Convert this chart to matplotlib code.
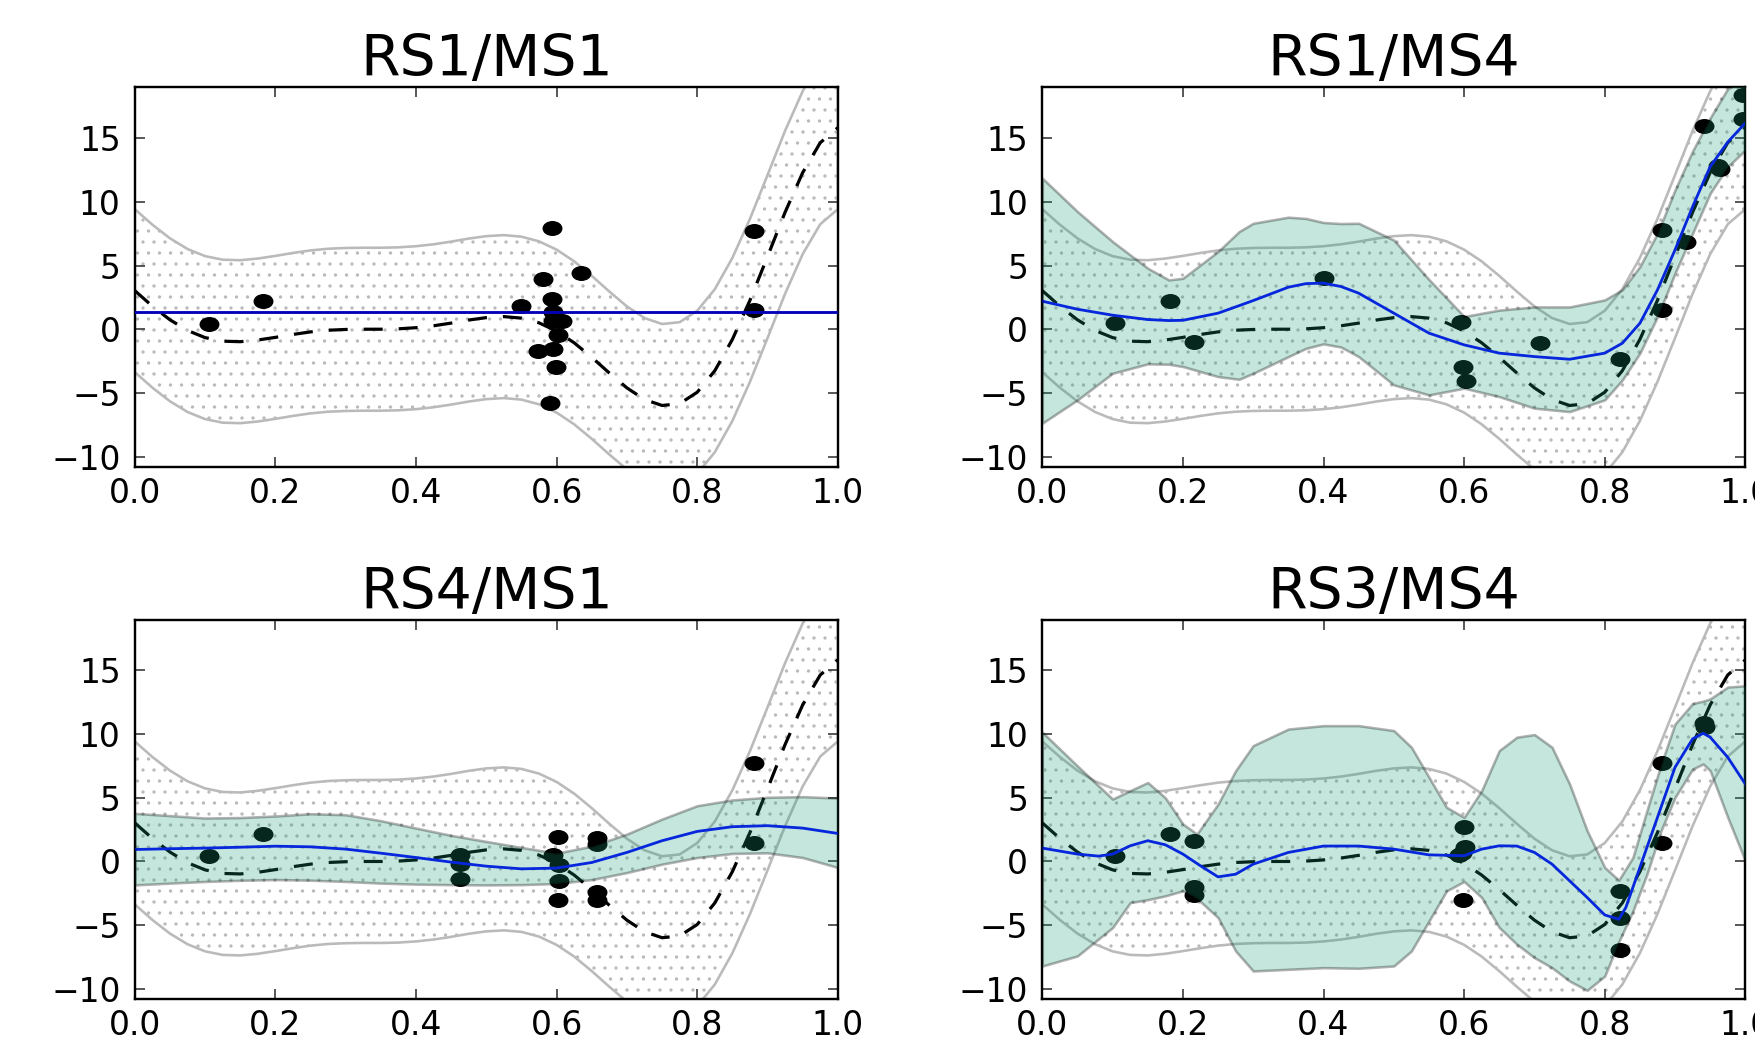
import numpy as np
import matplotlib.pyplot as plt
from matplotlib.markers import MarkerStyle
from matplotlib.transforms import Affine2D

DPI = 66


def pt(px):
    # pixel size -> points at the chosen dpi
    return px * 72.0 / DPI


# true function (dashed) and the wide hatched band, sampled every 0.025
x_true = np.linspace(0.0, 1.0, 41)
y_true = [3.03, 1.81, 0.74, -0.10, -0.66, -0.94, -0.98, -0.85, -0.64, -0.41,
          -0.21, -0.08, -0.02, 0.00, 0.00, 0.03, 0.12, 0.27, 0.48, 0.72,
          0.91, 0.99, 0.87, 0.50, -0.15, -1.07, -2.21, -3.44, -4.61, -5.52,
          -5.99, -5.85, -4.95, -3.26, -0.80, 2.27, 5.71, 9.19, 12.30, 14.65, 15.83]
band_hi = [9.43, 8.21, 7.14, 6.30, 5.74, 5.46, 5.42, 5.55, 5.76, 5.99,
           6.19, 6.32, 6.38, 6.40, 6.40, 6.43, 6.52, 6.67, 6.88, 7.12,
           7.31, 7.39, 7.27, 6.90, 6.25, 5.33, 4.19, 2.96, 1.79, 0.88,
           0.41, 0.55, 1.45, 3.14, 5.60, 8.67, 12.11, 15.59, 18.70, 21.05, 22.23]
band_lo = [-3.37, -4.59, -5.66, -6.50, -7.06, -7.34, -7.38, -7.25, -7.04, -6.81,
           -6.61, -6.48, -6.42, -6.40, -6.40, -6.37, -6.28, -6.13, -5.92, -5.68,
           -5.49, -5.41, -5.53, -5.90, -6.55, -7.47, -8.61, -9.84, -11.01, -11.92,
           -12.39, -12.25, -11.35, -9.66, -7.20, -4.13, -0.69, 2.79, 5.90, 8.25, 9.43]

# RS1/MS1
p1_px = [0.105, 0.183, 0.549, 0.580, 0.593, 0.634, 0.594, 0.595, 0.595, 0.608,
         0.602, 0.574, 0.595, 0.599, 0.590, 0.881, 0.881]
p1_py = [0.42, 2.2, 1.83, 3.93, 7.96, 4.4, 2.36, 1.39, 0.68, 0.63,
         -0.47, -1.68, -1.52, -2.93, -5.81, 7.75, 1.52]
p1_x = [0.0, 1.0]
p1_mean = [1.33, 1.33]
p1_lo = [1.33, 1.33]
p1_hi = [1.33, 1.33]

# RS1/MS4
p2_px = [0.104, 0.182, 0.216, 0.400, 0.595, 0.599, 0.603, 0.708, 0.821, 0.881,
         0.882, 0.915, 0.941, 0.964, 0.961, 0.996, 0.996]
p2_py = [0.47, 2.2, -0.97, 4.0, 0.58, -2.93, -4.08, -1.1, -2.36, 7.8,
         1.52, 6.86, 15.97, 12.57, 12.8, 18.4, 16.5]
p2_x = [0, 0.05, 0.1, 0.15, 0.18, 0.2, 0.25, 0.28, 0.3, 0.35, 0.375, 0.4, 0.425,
        0.45, 0.5, 0.55, 0.6, 0.65, 0.7, 0.75, 0.8, 0.825, 0.85, 0.875, 0.9,
        0.925, 0.95, 0.975, 1.0]
p2_mean = [2.2, 1.57, 1.10, 0.76, 0.68, 0.70, 1.26, 1.85, 2.25, 3.30, 3.58, 3.62,
           3.35, 2.83, 1.26, -0.31, -1.23, -1.88, -2.15, -2.36, -1.88, -1.1, 0.47,
           3.09, 6.23, 9.63, 12.77, 14.7, 16.2]
p2_hi = [11.86, 9.24, 6.88, 4.79, 3.87, 4.0, 6.1, 7.67, 8.32, 8.8, 8.7, 8.38, 8.3,
         8.32, 7.0, 3.9, 1.0, 1.5, 1.75, 1.75, 2.3, 3.1, 4.92, 7.54, 10.94,
         14.0, 16.6, 18.9, 19.6]
p2_lo = [-7.38, -5.55, -3.46, -2.72, -2.75, -2.93, -3.72, -3.93, -3.46, -2.15,
         -1.5, -1.15, -1.4, -2.15, -4.37, -5.16, -4.63, -5.29, -6.2, -6.47,
         -5.55, -3.98, -1.88, 0.99, 4.4, 7.54, 10.68, 12.77, 14.08]

# RS4/MS1
p3_px = [0.105, 0.183, 0.462, 0.462, 0.462, 0.602, 0.595, 0.604, 0.604, 0.602,
         0.657, 0.657, 0.657, 0.657, 0.881, 0.881]
p3_py = [0.42, 2.15, 0.5, -0.2, -1.35, 1.89, 0.52, -0.26, -1.57, -2.99,
         1.84, 1.36, -2.41, -2.99, 7.76, 1.47]
p3_x = [0, 0.05, 0.1, 0.15, 0.2, 0.25, 0.3, 0.35, 0.4, 0.45, 0.5, 0.55, 0.6,
        0.65, 0.7, 0.75, 0.8, 0.85, 0.9, 0.95, 1.0]
p3_mean = [0.94, 1.0, 1.05, 1.12, 1.2, 1.15, 0.97, 0.65, 0.31, -0.05, -0.37,
           -0.58, -0.52, -0.08, 0.71, 1.63, 2.36, 2.73, 2.81, 2.62, 2.2]
p3_hi = [3.78, 3.6, 3.41, 3.45, 3.57, 3.75, 3.67, 3.2, 2.62, 2.05, 1.57, 1.1,
         0.65, 1.2, 2.15, 3.33, 4.38, 4.83, 5.04, 5.09, 4.98]
p3_lo = [-1.84, -1.7, -1.57, -1.48, -1.42, -1.47, -1.57, -1.7, -1.78, -1.82,
         -1.84, -1.82, -1.73, -1.42, -0.87, -0.21, 0.31, 0.63, 0.68, 0.31, -0.47]

# RS3/MS4
p4_px = [0.104, 0.182, 0.216, 0.216, 0.216, 0.600, 0.601, 0.597, 0.593, 0.599,
         0.821, 0.821, 0.821, 0.881, 0.882, 0.941, 0.942]
p4_py = [0.42, 2.15, 1.63, -1.99, -2.62, 2.73, 1.10, 0.68, 0.47, -2.99,
         -2.31, -4.41, -6.93, 7.76, 1.47, 10.9, 10.54]
p4_mx = [0, 0.05, 0.08, 0.1, 0.125, 0.15, 0.175, 0.2, 0.225, 0.25, 0.275, 0.3,
         0.35, 0.4, 0.45, 0.5, 0.55, 0.6, 0.625, 0.65, 0.675, 0.7, 0.725, 0.75,
         0.775, 0.8, 0.82, 0.83, 0.85, 0.875, 0.9, 0.925, 0.94, 0.95, 0.975, 1.0]
p4_mean = [1.05, 0.58, 0.42, 0.58, 1.23, 1.63, 1.31, 0.58, -0.34, -1.21, -1.0,
           -0.21, 0.71, 1.21, 1.21, 0.97, 0.52, 0.45, 0.97, 1.23, 1.21, 0.71,
           -0.21, -1.52, -2.83, -4.2, -4.54, -3.62, -0.47, 3.46, 7.4, 9.63,
           10.07, 9.76, 8.18, 6.08]
p4_x = [0, 0.05, 0.1, 0.125, 0.15, 0.175, 0.2, 0.22, 0.25, 0.275, 0.3, 0.35,
        0.4, 0.45, 0.5, 0.525, 0.55, 0.575, 0.6, 0.625, 0.65, 0.675, 0.7, 0.725,
        0.75, 0.775, 0.8, 0.82, 0.84, 0.86, 0.88, 0.9, 0.925, 0.94, 0.95, 0.975, 1.0]
p4_hi = [10.15, 7.5, 4.9, 5.56, 6.2, 5.0, 2.94, 2.15, 4.5, 7.13, 9.1, 10.4,
         10.67, 10.67, 10.28, 8.97, 6.61, 4.25, 3.46, 5.56, 8.71, 9.76, 9.97,
         8.97, 6.08, 2.41, -0.47, -1.47, 0.31, 3.99, 7.6, 10.8, 12.4, 12.6,
         12.77, 13.7, 13.8]
p4_lo = [-8.21, -7.42, -5.19, -3.23, -3.0, -2.7, -2.3, -2.9, -4.41, -7.03,
         -8.6, -8.47, -8.34, -8.39, -8.21, -7.03, -4.67, -2.31, -1.57, -2.83,
         -5.19, -6.5, -7.55, -8.34, -9.39, -10.12, -9.0, -6.3, -3.9, -1.0,
         2.41, 5.04, 7.26, 7.66, 7.13, 3.46, 0.05]

titles = ['RS1/MS1', 'RS1/MS4', 'RS4/MS1', 'RS3/MS4']
panels = [
    (p1_px, p1_py, p1_x, p1_mean, p1_x, p1_lo, p1_hi),
    (p2_px, p2_py, p2_x, p2_mean, p2_x, p2_lo, p2_hi),
    (p3_px, p3_py, p3_x, p3_mean, p3_x, p3_lo, p3_hi),
    (p4_px, p4_py, p4_mx, p4_mean, p4_x, p4_lo, p4_hi),
]
positions = [
    [0.0768, 0.5521, 0.4006, 0.3641],
    [0.5939, 0.5521, 0.4006, 0.3641],
    [0.0768, 0.0413, 0.4006, 0.3641],
    [0.5939, 0.0413, 0.4006, 0.3641],
]

plt.rcParams['font.family'] = 'DejaVu Sans'
plt.rcParams['hatch.color'] = '#b8b8b8'
plt.rcParams['hatch.linewidth'] = 1.2
plt.rcParams['lines.scale_dashes'] = False

fig = plt.figure(figsize=(1755 / DPI, 1042 / DPI), dpi=DPI)
dot = MarkerStyle('o', transform=Affine2D().scale(1.33, 1.0))

for title, pos, (px_, py_, mx, mean, bx, lo, hi) in zip(titles, positions, panels):
    ax = fig.add_axes(pos)

    # wide hatched band around the true curve
    ax.fill_between(x_true, band_lo, band_hi, facecolor='none', edgecolor='#bababa',
                    hatch='.', linewidth=pt(2.6), zorder=1)
    ax.plot(x_true, y_true, color='k', linewidth=pt(3.2), dashes=(pt(19), pt(16)),
            solid_joinstyle='round', zorder=2)
    ax.plot(px_, py_, linestyle='none', marker=dot, markersize=pt(15),
            markerfacecolor='k', markeredgewidth=0, zorder=3)
    ax.plot(mx, mean, color='b', linewidth=pt(2.8), solid_joinstyle='round', zorder=4)
    ax.fill_between(bx, lo, hi, facecolor=(0.106, 0.62, 0.467, 0.25),
                    edgecolor=(0, 0, 0, 0.3), linewidth=pt(2.6), zorder=5)

    ax.set_xlim(0, 1)
    ax.set_ylim(-10.8, 19.0)
    ax.set_xticks([0.0, 0.2, 0.4, 0.6, 0.8, 1.0])
    ax.set_xticklabels(['0.0', '0.2', '0.4', '0.6', '0.8', '1.0'])
    ax.set_yticks([-10, -5, 0, 5, 10, 15])
    ax.tick_params(direction='in', top=True, right=True, length=pt(10), width=pt(1.6),
                   labelsize=pt(33), color='#333333')
    ax.tick_params(axis='x', pad=pt(10))
    ax.tick_params(axis='y', pad=pt(14))
    for s in ax.spines.values():
        s.set_linewidth(pt(2.4))
    ax.set_title(title, fontsize=pt(57), pad=pt(11))

fig.savefig('out.png', dpi=DPI)
